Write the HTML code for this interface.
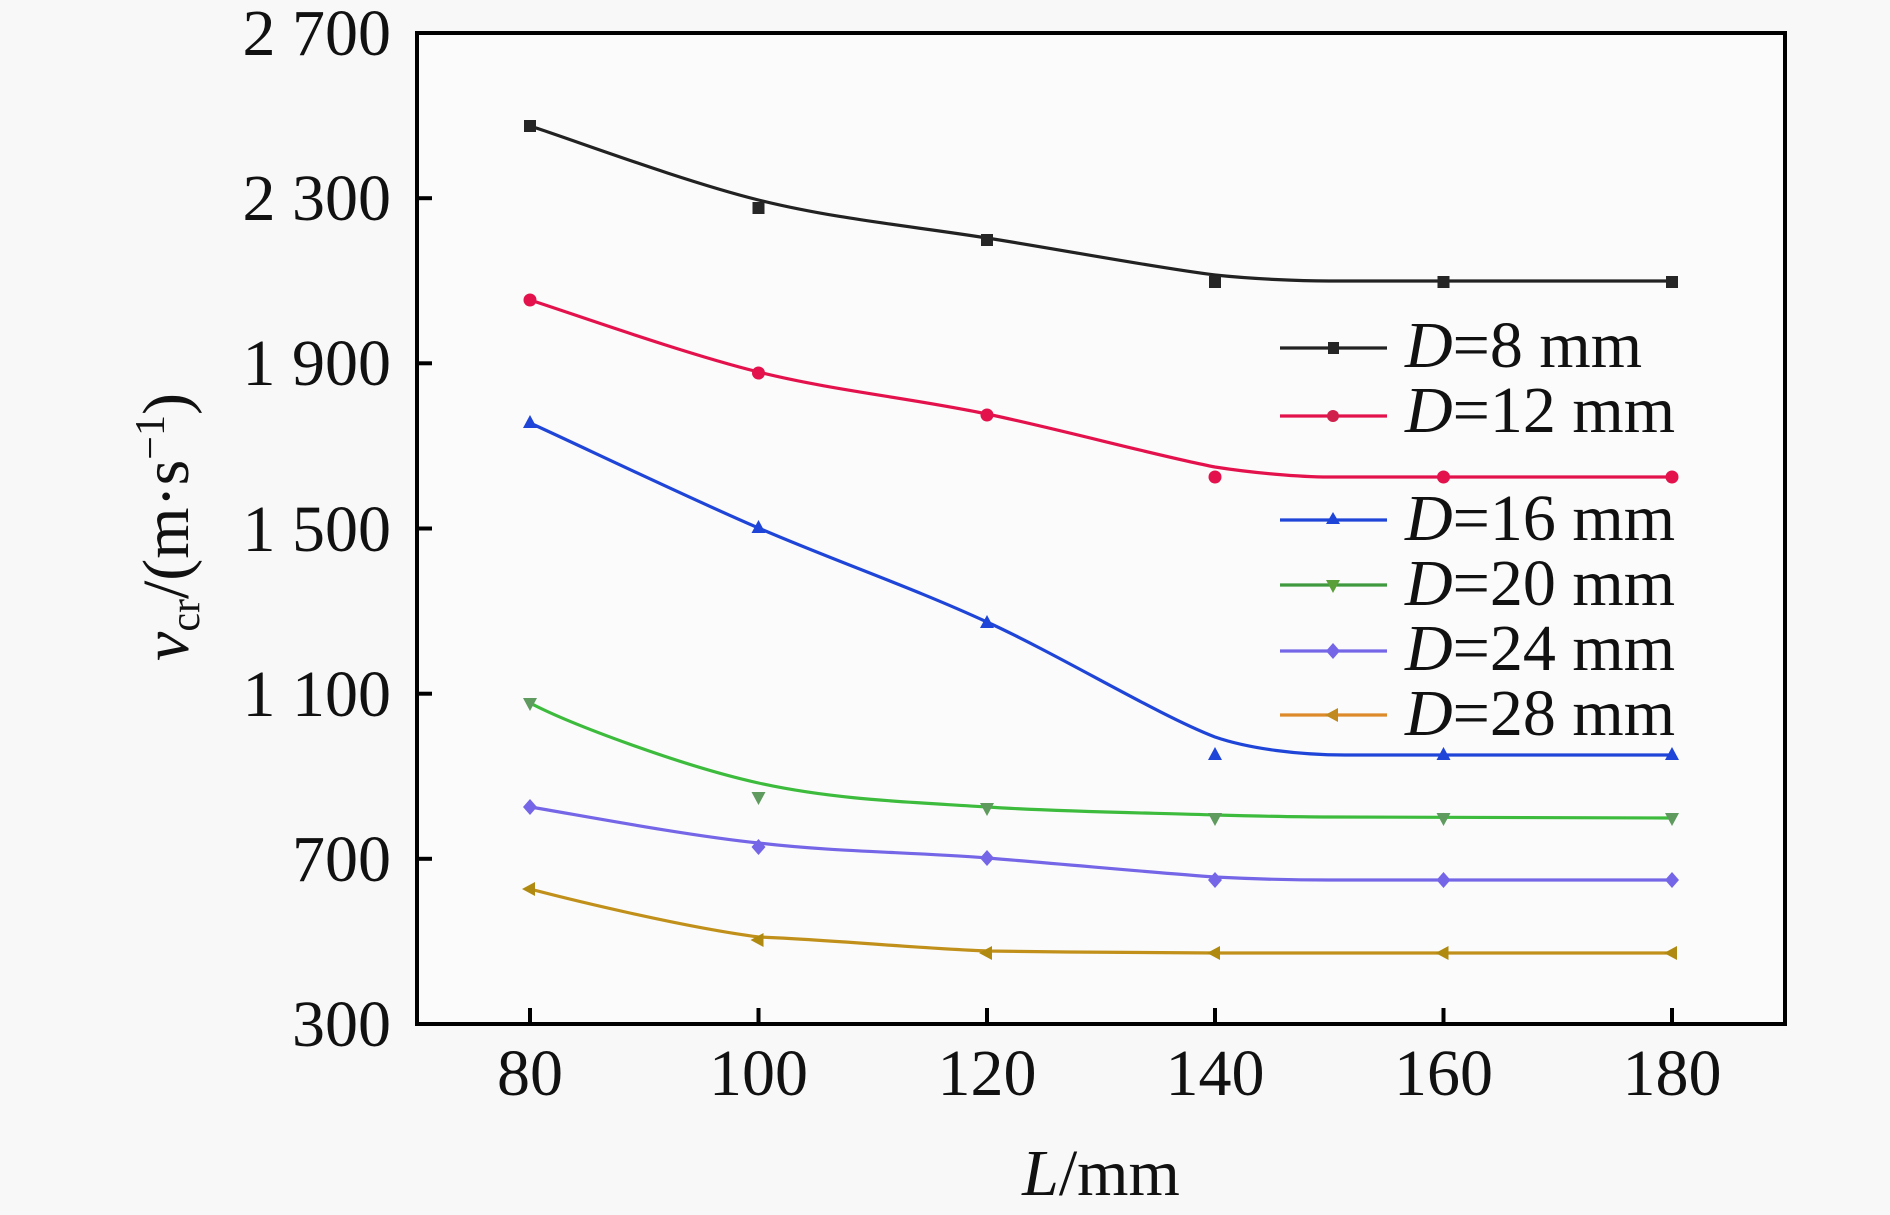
<!DOCTYPE html>
<html>
<head>
<meta charset="utf-8">
<style>
  html, body { margin: 0; padding: 0; background: #f8f8f8; }
  svg { display: block; }
  text { font-family: "Liberation Serif", "DejaVu Serif", serif; fill: #111; }
</style>
</head>
<body>
<svg width="1890" height="1215" viewBox="0 0 1890 1215" xmlns="http://www.w3.org/2000/svg">
  <rect x="0" y="0" width="1890" height="1215" fill="#f8f8f8"/>
  <!-- plot area -->
  <rect x="417" y="33" width="1368" height="991" fill="#fbfbfb"/>

  <!-- series curves -->
  <g fill="none" stroke-width="3.2" stroke-linejoin="round" stroke-linecap="round">
    <path stroke="#222222" d="M530,126 C568,138 682,181 758.5,200 C835,219 911,226 987,238 C1063,250 1158,268 1215,275 C1253,279 1300,281 1329,281 L1672,281"/>
    <path stroke="#e3124c" d="M530,300 C568,312 682,353 758.5,372 C835,391 911,398 987,414 C1063,430 1158,456 1215,467 C1253,473 1300,477 1329,477 L1672,477"/>
    <path stroke="#1f45d8" d="M530,423 C568,440 682,495 758.5,528 C835,561 911,587 987,622 C1063,657 1158,715 1215,737 C1250,749 1300,755 1345,755 L1672,755"/>
    <path stroke="#3dbb3d" d="M530,703 C570,724 682,766 758.5,783 C835,800 911,802 987,807 C1063,812 1158,813 1215,815 C1253,816 1300,817 1329,817 L1672,818"/>
    <path stroke="#7466e6" d="M530,807 C568,813 682,835 758.5,843 C835,852 911,852 987,858 C1063,864 1158,873 1215,877 C1253,879 1300,880 1329,880 L1672,880"/>
    <path stroke="#c0901a" d="M530,889 C568,899 682,927 758.5,937 C835,940 911,948 987,951 C1063,952 1158,953 1215,953 L1672,953"/>
  </g>

  <!-- markers D8: squares -->
  <g fill="#262626">
    <rect x="524" y="120" width="12" height="12"/>
    <rect x="752.5" y="202" width="12" height="12"/>
    <rect x="981" y="234" width="12" height="12"/>
    <rect x="1209" y="276" width="12" height="12"/>
    <rect x="1437.5" y="276" width="12" height="12"/>
    <rect x="1666" y="276" width="12" height="12"/>
  </g>
  <!-- D12: circles -->
  <g fill="#e3124c">
    <circle cx="530" cy="300" r="6.5"/>
    <circle cx="758.5" cy="373" r="6.5"/>
    <circle cx="987" cy="415" r="6.5"/>
    <circle cx="1215" cy="477" r="6.5"/>
    <circle cx="1443.5" cy="477" r="6.5"/>
    <circle cx="1672" cy="477" r="6.5"/>
  </g>
  <!-- D16: up triangles -->
  <g fill="#1f45d8">
    <polygon points="530,415 537,428 523,428"/>
    <polygon points="758.5,520 765.5,533 751.5,533"/>
    <polygon points="987,615 994,628 980,628"/>
    <polygon points="1215,747 1222,760 1208,760"/>
    <polygon points="1443.5,747 1450.5,760 1436.5,760"/>
    <polygon points="1672,747 1679,760 1665,760"/>
  </g>
  <!-- D20: down triangles -->
  <g fill="#5f9a5f">
    <polygon points="530,711 537,698 523,698"/>
    <polygon points="758.5,805 765.5,792 751.5,792"/>
    <polygon points="987,816 994,803 980,803"/>
    <polygon points="1215,826 1222,813 1208,813"/>
    <polygon points="1443.5,826 1450.5,813 1436.5,813"/>
    <polygon points="1672,826 1679,813 1665,813"/>
  </g>
  <!-- D24: diamonds -->
  <g fill="#7466e6">
    <polygon points="530,799 537,807 530,815 523,807"/>
    <polygon points="758.5,839 765.5,847 758.5,855 751.5,847"/>
    <polygon points="987,850 994,858 987,866 980,858"/>
    <polygon points="1215,872 1222,880 1215,888 1208,880"/>
    <polygon points="1443.5,872 1450.5,880 1443.5,888 1436.5,880"/>
    <polygon points="1672,872 1679,880 1672,888 1665,880"/>
  </g>
  <!-- D28: left triangles -->
  <g fill="#b08a10">
    <polygon points="522,889 535,882 535,896"/>
    <polygon points="750.5,940 763.5,933 763.5,947"/>
    <polygon points="979,953 992,946 992,960"/>
    <polygon points="1207,953 1220,946 1220,960"/>
    <polygon points="1435.5,953 1448.5,946 1448.5,960"/>
    <polygon points="1664,953 1677,946 1677,960"/>
  </g>

  <!-- frame -->
  <rect x="417" y="33" width="1368" height="991" fill="none" stroke="#000" stroke-width="4"/>

  <!-- y ticks -->
  <g stroke="#000" stroke-width="4">
    <line x1="417" y1="198.2" x2="432" y2="198.2"/>
    <line x1="417" y1="363.3" x2="432" y2="363.3"/>
    <line x1="417" y1="528.5" x2="432" y2="528.5"/>
    <line x1="417" y1="693.7" x2="432" y2="693.7"/>
    <line x1="417" y1="858.8" x2="432" y2="858.8"/>
  </g>
  <!-- x ticks -->
  <g stroke="#000" stroke-width="4">
    <line x1="530" y1="1024" x2="530" y2="1008"/>
    <line x1="758.5" y1="1024" x2="758.5" y2="1008"/>
    <line x1="987" y1="1024" x2="987" y2="1008"/>
    <line x1="1215" y1="1024" x2="1215" y2="1008"/>
    <line x1="1443.5" y1="1024" x2="1443.5" y2="1008"/>
    <line x1="1672" y1="1024" x2="1672" y2="1008"/>
  </g>

  <!-- y tick labels -->
  <g font-size="66" text-anchor="end">
    <text x="391" y="55">2 700</text>
    <text x="391" y="220">2 300</text>
    <text x="391" y="385">1 900</text>
    <text x="391" y="551">1 500</text>
    <text x="391" y="716">1 100</text>
    <text x="391" y="881">700</text>
    <text x="391" y="1046">300</text>
  </g>
  <!-- x tick labels -->
  <g font-size="66" text-anchor="middle">
    <text x="530" y="1095">80</text>
    <text x="758.5" y="1095">100</text>
    <text x="987" y="1095">120</text>
    <text x="1215" y="1095">140</text>
    <text x="1443.5" y="1095">160</text>
    <text x="1672" y="1095">180</text>
  </g>

  <!-- axis titles -->
  <text x="1101" y="1195" font-size="66" text-anchor="middle"><tspan font-style="italic">L</tspan>/mm</text>
  <text transform="translate(188,527) rotate(-90)" x="0" y="0" font-size="66" text-anchor="middle"><tspan font-style="italic">v</tspan><tspan font-size="42" dy="11">cr</tspan><tspan dy="-11">/(m·s</tspan><tspan font-size="42" dy="-24">−1</tspan><tspan dy="24">)</tspan></text>

  <!-- legend -->
  <g stroke-width="3.2" fill="none">
    <line x1="1280" y1="348" x2="1387" y2="348" stroke="#222222"/>
    <line x1="1280" y1="416" x2="1387" y2="416" stroke="#e3124c"/>
    <line x1="1280" y1="520" x2="1387" y2="520" stroke="#1f45d8"/>
    <line x1="1280" y1="585" x2="1387" y2="585" stroke="#3f9a3f"/>
    <line x1="1280" y1="651" x2="1387" y2="651" stroke="#7466e6"/>
    <line x1="1280" y1="715" x2="1387" y2="715" stroke="#dd8a2a"/>
  </g>
  <rect x="1328" y="342" width="11" height="12" fill="#262626"/>
  <circle cx="1333" cy="416" r="6" fill="#d0204c"/>
  <polygon points="1333,512 1340,524 1326,524" fill="#1f45d8"/>
  <polygon points="1333,593 1340,580 1326,580" fill="#5aa03a"/>
  <polygon points="1333,643 1340,651 1333,659 1326,651" fill="#7466e6"/>
  <polygon points="1325,715 1338,708 1338,722" fill="#c08a20"/>

  <g font-size="66">
    <text x="1405" y="367"><tspan font-style="italic">D</tspan>=8 mm</text>
    <text x="1405" y="432"><tspan font-style="italic">D</tspan>=12 mm</text>
    <text x="1405" y="540"><tspan font-style="italic">D</tspan>=16 mm</text>
    <text x="1405" y="605"><tspan font-style="italic">D</tspan>=20 mm</text>
    <text x="1405" y="670"><tspan font-style="italic">D</tspan>=24 mm</text>
    <text x="1405" y="735"><tspan font-style="italic">D</tspan>=28 mm</text>
  </g>
</svg>
</body>
</html>
